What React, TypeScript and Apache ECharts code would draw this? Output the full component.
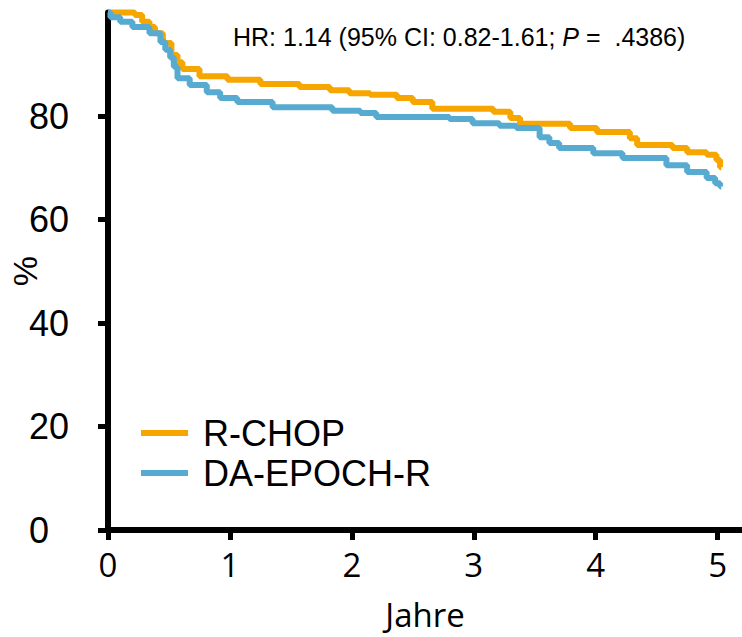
import React, { useEffect, useRef } from "react";
import * as echarts from "echarts";

const seriesNames = ["R-CHOP", "DA-EPOCH-R"];
const seriesColors = ["#F7A600", "#58ABD0"];

const rchopTimes = [0, 0.22, 0.28, 0.34, 0.385, 0.45, 0.52, 0.57, 0.61, 0.75, 0.98, 1.25, 1.57, 1.82, 1.98, 2.15, 2.37, 2.5, 2.66, 3.16, 3.3, 3.38, 3.79, 4.01, 4.28, 4.34, 4.63, 4.75, 4.91, 4.99, 5.02, 5.03];
const rchopSurv = [100, 99.5, 98.2, 97.2, 96.0, 94.1, 91.8, 90.4, 89.1, 87.7, 87.0, 86.2, 85.6, 85.0, 84.4, 84.1, 83.5, 82.7, 81.4, 80.8, 79.6, 78.5, 77.7, 76.9, 75.7, 74.4, 73.8, 73.0, 72.5, 71.5, 70.1, 70.1];

const daTimes = [0, 0.02, 0.1, 0.2, 0.34, 0.43, 0.47, 0.51, 0.54, 0.57, 0.67, 0.81, 0.92, 1.06, 1.35, 1.84, 2.07, 2.2, 2.8, 2.99, 3.21, 3.35, 3.54, 3.62, 3.7, 3.98, 4.22, 4.58, 4.75, 4.91, 4.98, 5.02, 5.03];
const daSurv = [100, 99.1, 98.2, 97.2, 96.0, 94.3, 92.8, 91.3, 89.5, 87.3, 86.0, 84.6, 83.5, 82.7, 81.7, 81.0, 80.6, 79.8, 79.4, 78.6, 78.1, 77.7, 75.9, 74.8, 73.8, 72.8, 71.9, 70.5, 69.2, 68.0, 67.0, 66.4, 66.4];

const xTicks = [0, 1, 2, 3, 4, 5];
const yTicks = [0, 20, 40, 60, 80];
const xName = "Jahre";
const yName = "%";

const zip = (t: number[], v: number[]) => t.map((x, i) => [x, v[i]]);

export default function App() {
  const ref = useRef<HTMLDivElement>(null);
  useEffect(() => {
    if (!ref.current) return;
    const chart = echarts.init(ref.current, null, { renderer: "svg" });
    const arial = "'Liberation Sans', Arial, sans-serif";
    const open = "'Open Sans', sans-serif";
    chart.setOption({
      animation: false,
      backgroundColor: "#ffffff",
      grid: { left: 108, right: 0, top: 12.5, bottom: 107, containLabel: false, outerBoundsMode: "none" },
      xAxis: {
        type: "value",
        min: 0,
        max: 5.2,
        interval: 1,
        name: xName,
        nameLocation: "middle",
        nameGap: 68,
        nameMoveOverlap: false,
        nameTextStyle: { fontFamily: open, fontSize: 33, color: "#000" },
        splitLine: { show: false },
        axisLine: { show: true, lineStyle: { color: "#000", width: 6 } },
        axisTick: { show: true, customValues: xTicks, length: 10, lineStyle: { color: "#000", width: 5 } },
        axisLabel: { customValues: xTicks, margin: 18, fontFamily: open, fontSize: 33, color: "#000" },
      },
      yAxis: {
        type: "value",
        min: 0,
        max: 100,
        interval: 20,
        name: yName,
        nameLocation: "middle",
        nameGap: 66,
        nameRotate: 90,
        nameMoveOverlap: false,
        nameTextStyle: { fontFamily: arial, fontSize: 34, color: "#000" },
        splitLine: { show: false },
        axisLine: { show: true, lineStyle: { color: "#000", width: 6 } },
        axisTick: { show: true, customValues: yTicks, length: 10, lineStyle: { color: "#000", width: 5 } },
        axisLabel: { customValues: yTicks, margin: 79, align: "left", fontFamily: arial, fontSize: 36, color: "#000" },
      },
      legend: {
        orient: "vertical",
        left: 136,
        top: 408,
        itemWidth: 47,
        itemHeight: 6,
        itemGap: 0,
        icon: "rect",
        data: seriesNames,
        textStyle: { fontFamily: arial, fontSize: 36, color: "#000", lineHeight: 40, padding: [0, 0, 0, 10] },
      },
      graphic: [
        {
          type: "text",
          left: 233,
          top: 24,
          style: {
            text: "{n|HR: 1.14 (95% CI: 0.82-1.61; }{i|P}{n| =  .4386)}",
            rich: {
              n: { fontFamily: arial, fontSize: 25, fill: "#000" },
              i: { fontFamily: arial, fontSize: 25, fontStyle: "italic", fill: "#000" },
            },
          },
        },
      ],
      series: [
        {
          name: seriesNames[0],
          type: "line",
          step: "end",
          data: zip(rchopTimes, rchopSurv),
          showSymbol: false,
          symbol: "none",
          clip: false,
          color: seriesColors[0],
          lineStyle: { color: seriesColors[0], width: 6 },
          z: 2,
        },
        {
          name: seriesNames[1],
          type: "line",
          step: "end",
          data: zip(daTimes, daSurv),
          showSymbol: false,
          symbol: "none",
          clip: false,
          color: seriesColors[1],
          lineStyle: { color: seriesColors[1], width: 6 },
          z: 3,
        },
      ],
    });
    return () => chart.dispose();
  }, []);
  return <div ref={ref} style={{ width: 742, height: 637, position: "absolute", left: 0, top: 0 }} />;
}
